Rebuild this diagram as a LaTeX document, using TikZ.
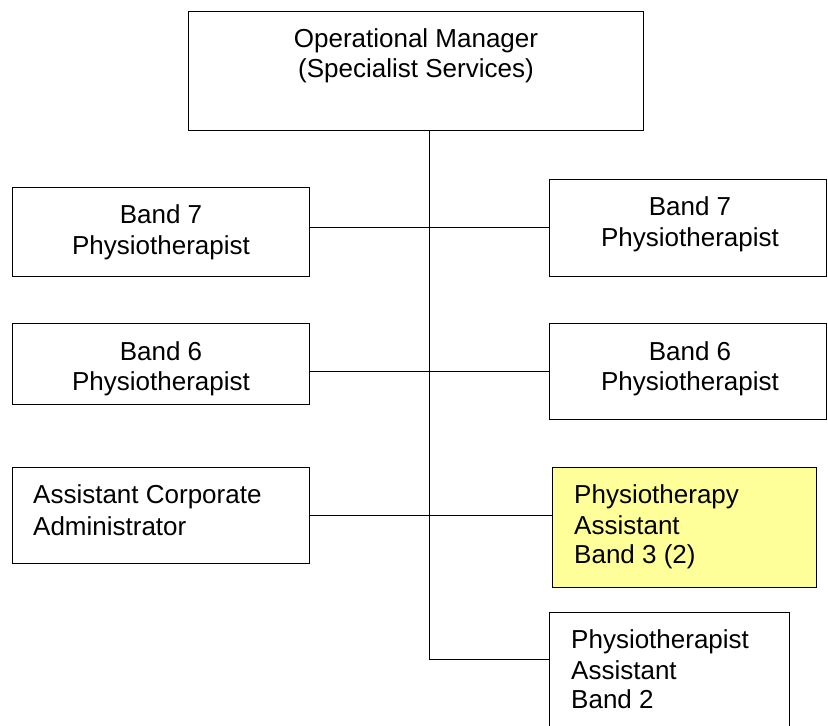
\documentclass[tikz,border=0pt]{standalone}
\usepackage{fontspec}
\setmainfont{Liberation Sans}
\definecolor{paleyellow}{HTML}{FFFF99}
\begin{document}
\begin{tikzpicture}[x=1pt,y=-1pt,
  box/.style={draw=black,line width=1pt,rectangle,inner sep=0pt},
  txt/.style={inner sep=0pt,font=\fontsize{26}{30}\selectfont},
  ctr/.style={txt,anchor=base},
  lft/.style={txt,anchor=base west},
  conn/.style={draw=black,line width=1pt}]
\useasboundingbox (0,0) rectangle (828,726);
% boxes
\node[box,minimum width=455pt,minimum height=119pt] (top) at (415.5,70.5) {};
\node[box,minimum width=297pt,minimum height=89pt] (b7l) at (160.5,231.5) {};
\node[box,minimum width=277pt,minimum height=97pt] (b7r) at (687.5,227.5) {};
\node[box,minimum width=297pt,minimum height=81pt] (b6l) at (160.5,363.5) {};
\node[box,minimum width=277pt,minimum height=96pt] (b6r) at (687.5,371) {};
\node[box,minimum width=297pt,minimum height=96pt] (aca) at (160.5,515) {};
\node[box,fill=paleyellow,minimum width=264pt,minimum height=120pt] (pa3) at (684,527) {};
\node[box,minimum width=240pt,minimum height=128pt] (pa2) at (669,676) {};
% texts
\node[ctr] (t1) at (416,47) {Operational Manager};
\node[ctr] (t2) at (416,77) {(Specialist Services)};
\node[ctr] (l7a) at (161,223) {Band 7};
\node[ctr] (l7b) at (161,254) {Physiotherapist};
\node[ctr] (r7a) at (690,215) {Band 7};
\node[ctr] (r7b) at (690,246) {Physiotherapist};
\node[ctr] (l6a) at (161,360) {Band 6};
\node[ctr] (l6b) at (161,390) {Physiotherapist};
\node[ctr] (r6a) at (690,360) {Band 6};
\node[ctr] (r6b) at (690,390) {Physiotherapist};
\node[lft] (aa) at (33,503) {Assistant Corporate};
\node[lft] (ab) at (33,535) {Administrator};
\node[lft] (pa) at (574,503) {Physiotherapy};
\node[lft] (pb) at (574,534) {Assistant};
\node[lft] (pc) at (574,563) {Band 3 (2)};
\node[lft] (qa) at (571,648) {Physiotherapist};
\node[lft] (qb) at (571,679) {Assistant};
\node[lft] (qc) at (571,708) {Band 2};
% connectors
\coordinate (j7) at (429,227);
\coordinate (j6) at (429,371);
\coordinate (j3) at (429,515);
\coordinate (jb) at (429,659);
\draw[conn] (top.south -| jb) -- (jb) -- (pa2.west |- jb);
\draw[conn] (b7l.east |- j7) -- (b7r.west |- j7);
\draw[conn] (b6l.east |- j6) -- (b6r.west |- j6);
\draw[conn] (aca.east |- j3) -- (pa3.west |- j3);
\end{tikzpicture}
\end{document}
